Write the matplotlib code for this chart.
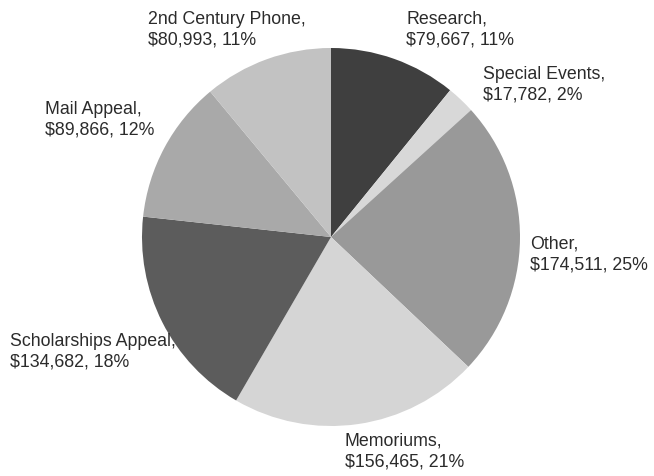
import matplotlib
matplotlib.use("Agg")
import matplotlib.pyplot as plt

# =========================================================
# DATA
# =========================================================
categories = ["Research", "Special Events", "Other", "Memoriums",
              "Scholarships Appeal", "Mail Appeal", "2nd Century Phone"]
amounts = [79667, 17782, 174511, 156465, 134682, 89866, 80993]
pct_labels = ["11%", "2%", "25%", "21%", "18%", "12%", "11%"]
colors = ["#3f3f3f", "#d8d8d8", "#999999", "#d5d5d5",
          "#5c5c5c", "#a9a9a9", "#c2c2c2"]

# label anchor (pixels, top-left of text block)
label_pos = [(406, 11), (483, 66), (530, 236), (345, 433),
             (10, 333), (45, 101), (148, 11)]

# =========================================================
# PLOT
# =========================================================
W, H = 654, 477
fig = plt.figure(figsize=(W / 100, H / 100), dpi=100)

cx, cy, r = 331, 238, 189
ax = fig.add_axes([(cx - r) / W, (H - cy - r) / H, 2 * r / W, 2 * r / H])
ax.pie(amounts, colors=colors, startangle=90, counterclock=False,
       radius=1.0, wedgeprops=dict(linewidth=0))
ax.set_xlim(-1, 1)
ax.set_ylim(-1, 1)
ax.set_aspect("equal")
ax.axis("off")

for name, amt, pct, (px, py) in zip(categories, amounts, pct_labels, label_pos):
    txt = f"{name},\n${amt:,}, {pct}"
    fig.text(px / W, 1 - py / H, txt, ha="left", va="top",
             fontsize=12.8, family="Liberation Sans", color="#2b2b2b",
             linespacing=1.3)

fig.savefig("out.png", dpi=100)
